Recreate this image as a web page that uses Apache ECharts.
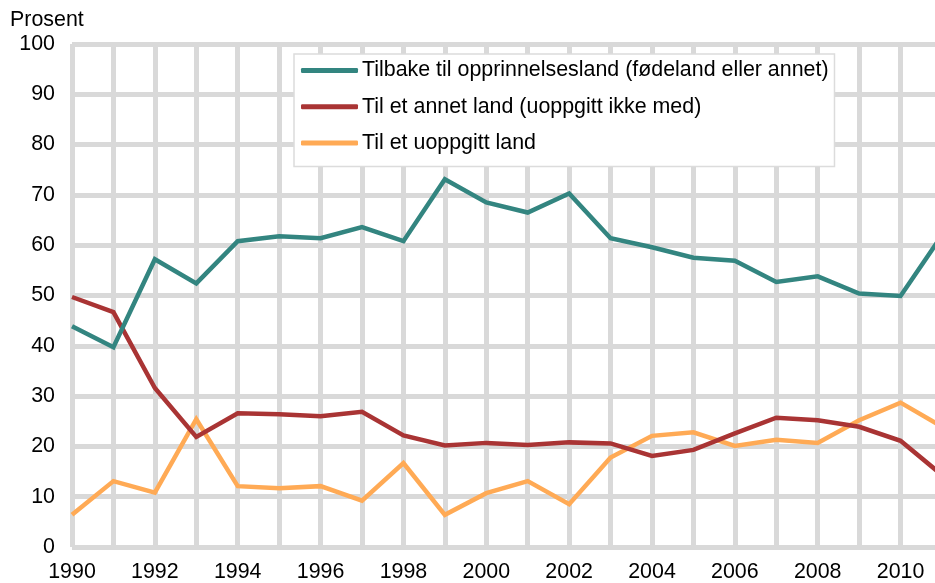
<!DOCTYPE html>
<html>
<head>
<meta charset="utf-8">
<script src="https://cdn.jsdelivr.net/npm/echarts@6/dist/echarts.min.js"></script>
<style>
  html, body { margin: 0; padding: 0; background: #ffffff; }
  #chart { width: 935px; height: 583px; }
</style>
</head>
<body>
<div id="chart"></div>
<script>
// Years on the horizontal axis
const years = [1990, 1991, 1992, 1993, 1994, 1995, 1996, 1997, 1998, 1999, 2000,
               2001, 2002, 2003, 2004, 2005, 2006, 2007, 2008, 2009, 2010, 2011];

// Share of emigrants (prosent) by destination
const tilbakeOpprinnelsesland = [43.9, 39.7, 57.2, 52.4, 60.8, 61.8, 61.4, 63.6, 60.8, 73.1, 68.5,
                                 66.5, 70.3, 61.4, 59.6, 57.5, 56.9, 52.7, 53.8, 50.4, 49.9, 62.0];
const tilAnnetLand = [49.7, 46.7, 31.6, 21.9, 26.6, 26.4, 26.0, 26.9, 22.2, 20.2, 20.7,
                      20.3, 20.8, 20.6, 18.1, 19.3, 22.6, 25.7, 25.2, 23.9, 21.1, 14.3];
const tilUoppgittLand = [6.4, 13.1, 10.8, 25.4, 12.1, 11.7, 12.1, 9.2, 16.7, 6.4, 10.7,
                         13.1, 8.5, 17.8, 22.1, 22.8, 20.1, 21.3, 20.7, 25.2, 28.7, 23.9];

const seriesNames = [
  'Tilbake til opprinnelsesland (fødeland eller annet)',
  'Til et annet land (uoppgitt ikke med)',
  'Til et uoppgitt land'
];
const yTicks = [0, 10, 20, 30, 40, 50, 60, 70, 80, 90, 100];

const colors = ['#338580', '#a93434', '#ffaa55'];
const font = 'Liberation Sans, Arial, sans-serif';
const fontSize = 21.4;

function pairs(vals) {
  return years.map((y, i) => [y, vals[i]]);
}

const chart = echarts.init(document.getElementById('chart'), null, { renderer: 'canvas' });

chart.setOption({
  animation: false,
  backgroundColor: '#ffffff',
  title: {
    text: 'Prosent',
    left: 10,
    top: 10,
    padding: 0,
    textStyle: { fontFamily: font, fontSize: fontSize, fontWeight: 'normal', color: '#000' }
  },
  grid: { left: 72, top: 44, width: 870, height: 503, containLabel: false, outerBoundsMode: 'none' },
  legend: {
    show: true,
    orient: 'vertical',
    left: 294,
    top: 54,
    padding: [6, 6, 13, 7],
    itemGap: 15.3,
    itemWidth: 57,
    itemHeight: 5,
    backgroundColor: '#ffffff',
    borderColor: '#dcdcdc',
    borderWidth: 1.5,
    textStyle: { fontFamily: font, fontSize: fontSize, color: '#000', padding: [0, 0, 0, -1] },
    data: seriesNames.map(n => ({ name: n, icon: 'roundRect' }))
  },
  xAxis: {
    type: 'value',
    min: 1990,
    max: 2011,
    interval: 1,
    axisLine: { show: false },
    axisTick: { show: false },
    axisLabel: {
      margin: 15,
      fontFamily: font,
      fontSize: fontSize,
      color: '#000',
      formatter: v => (v % 2 === 0 ? String(v) : '')
    },
    splitLine: { show: true, lineStyle: { color: '#d9d9d9', width: 5 } }
  },
  yAxis: {
    type: 'value',
    min: yTicks[0],
    max: yTicks[yTicks.length - 1],
    interval: 10,
    axisLine: { show: false },
    axisTick: { show: false },
    axisLabel: { margin: 17, fontFamily: font, fontSize: fontSize, color: '#000' },
    splitLine: { show: true, lineStyle: { color: '#d9d9d9', width: 5 } }
  },
  series: [tilbakeOpprinnelsesland, tilAnnetLand, tilUoppgittLand].map((vals, i) => ({
    name: seriesNames[i],
    type: 'line',
    data: pairs(vals),
    showSymbol: false,
    symbol: 'none',
    color: colors[i],
    lineStyle: { color: colors[i], width: 4.5, join: 'miter' },
    z: 3 + (2 - i)
  }))
});
</script>
</body>
</html>
